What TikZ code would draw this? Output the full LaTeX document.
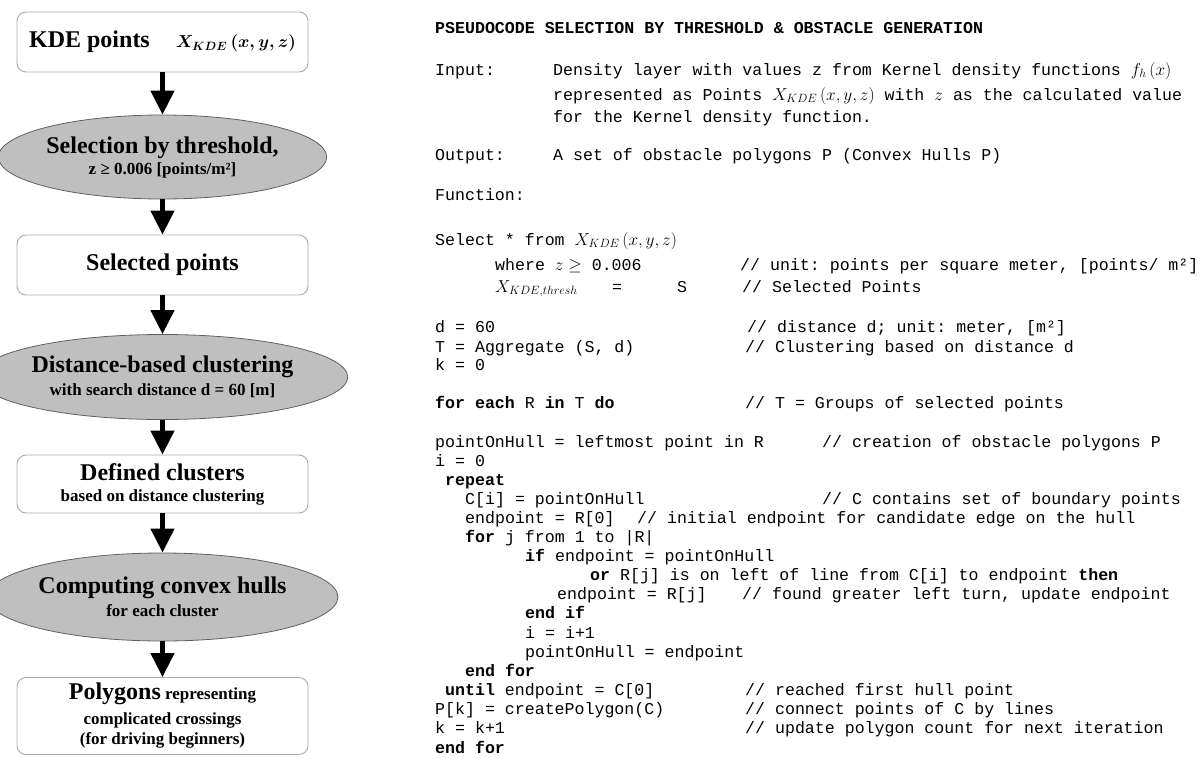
\documentclass[tikz,border=0pt]{standalone}
\usepackage{fontspec}
\setmainfont{Liberation Serif}
\setmonofont{Liberation Mono}
\usetikzlibrary{shapes.geometric,arrows.meta}

\newcommand\codefnt{\ttfamily\fontsize{16.6pt}{19pt}\selectfont}
\newcommand\bigbf{\fontsize{24pt}{24pt}\selectfont}
% small bold text with a given baseline distance between lines
\newcommand\smallbf[1]{\bfseries\fontsize{17pt}{#1}\selectfont}

\tikzset{
  flowbox/.style={draw=gray!65, line width=0.9pt, rounded corners=9pt, fill=white,
    minimum width=291pt, inner sep=0pt, align=center},
  flowoval/.style={ellipse, draw=gray!75!black, line width=0.8pt, fill=gray!50,
    minimum width=300pt, inner sep=0pt, align=center},
  flowarrow/.style={line width=4.5pt, -{Triangle[width=23pt,length=24pt]}},
  code/.style={anchor=base west, inner sep=0pt, font=\codefnt},
}

\begin{document}
\begin{tikzpicture}[x=1pt,y=-1pt]
\useasboundingbox (0,0) rectangle (1201,758);

% ---------------- flow chart ----------------
\node[flowbox, minimum height=60pt, font=\bfseries] (kde) at (162.5,42)
  {\bigbf KDE points\hspace{26pt}{\fontsize{18pt}{20pt}\selectfont\boldmath$X_{KDE}\,(x,y,z)$}};
\node[flowoval, minimum height=84pt, font=\smallbf{21pt}] (thr) at (162.5,157)
  {{\bigbf Selection by threshold,}\\ z ≥ 0.006 [points/m²]};
\node[flowbox, minimum height=60pt, font=\bfseries] (sel) at (162.5,265)
  {\bigbf Selected points};
\node[flowoval, minimum height=85pt, font=\smallbf{23pt}] (clu) at (162.5,377)
  {{\bigbf Distance-based clustering}\\ with search distance d = 60 [m]};
\node[flowbox, minimum height=58pt, font=\smallbf{21pt}] (def) at (162.5,484)
  {{\bigbf Defined clusters}\\ based on distance clustering};
\node[flowoval, minimum height=88pt, font=\smallbf{23pt}] (hul) at (162.5,597)
  {{\bigbf Computing convex hulls}\\ for each cluster};
\node[flowbox, minimum height=77pt, font=\smallbf{20pt}] (pol) at (162.5,716)
  {{\bigbf Polygons} representing\\[5pt]
   complicated crossings\\
   (for driving beginners)};

\draw[flowarrow] (kde.south) -- (thr.north);
\draw[flowarrow] (thr.south) -- (sel.north);
\draw[flowarrow] (sel.south) -- (clu.north);
\draw[flowarrow] (clu.south) -- (def.north);
\draw[flowarrow] (def.south) -- (hul.north);
\draw[flowarrow] (hul.south) -- (pol.north);

% ---------------- pseudocode ----------------
\node[code] (c01) at (435,33) {\textbf{PSEUDOCODE SELECTION BY THRESHOLD \& OBSTACLE GENERATION}};
\node[code] (c02) at (435,75) {Input:};
\node[code] (c03) at (553,75) {Density layer with values z from Kernel density functions $f_h\,(x)$};
\node[code] (c04) at (553,100) {represented as Points $X_{KDE}\,(x,y,z)$ with $z$ as the calculated value};
\node[code] (c05) at (553,122) {for the Kernel density function.};
\node[code] (c06) at (435,160) {Output:};
\node[code] (c07) at (553,160) {A set of obstacle polygons P (Convex Hulls P)};
\node[code] (c08) at (435,200) {Function:};
\node[code] (c09) at (435,245) {Select * from $X_{KDE}\,(x,y,z)$};
\node[code] (c10) at (495,270) {where $z \geq$ 0.006};
\node[code] (c11) at (740,270) {// unit: points per square meter, [points/ m²]};
\node[code] (c12) at (495,292) {$X_{KDE,thresh}$};
\node[code] (c13) at (612,292) {=};
\node[code] (c14) at (677,292) {S};
\node[code] (c15) at (742,292) {// Selected Points};
\node[code] (c16) at (435,332) {d = 60};
\node[code] (c17) at (747,332) {// distance d; unit: meter, [m²]};
\node[code] (c18) at (435,352) {T = Aggregate (S, d)};
\node[code] (c19) at (745,352) {// Clustering based on distance d};
\node[code] (c20) at (435,370) {k = 0};
\node[code] (c21) at (435,408) {\textbf{for each} R \textbf{in} T \textbf{do}};
\node[code] (c22) at (745,408) {// T = Groups of selected points};
\node[code] (c23) at (435,447) {pointOnHull = leftmost point in R};
\node[code] (c24) at (822,447) {// creation of obstacle polygons P};
\node[code] (c25) at (435,466) {i = 0};
\node[code] (c26) at (445,485) {\textbf{repeat}};
\node[code] (c27) at (465,504) {C[i] = pointOnHull};
\node[code] (c28) at (822,504) {// C contains set of boundary points};
\node[code] (c29) at (465,523) {endpoint = R[0]};
\node[code] (c30) at (637,523) {// initial endpoint for candidate edge on the hull};
\node[code] (c31) at (465,542) {\textbf{for} j from 1 to |R|};
\node[code] (c32) at (525,561) {\textbf{if} endpoint = pointOnHull};
\node[code] (c33) at (590,580) {\textbf{or} R[j] is on left of line from C[i] to endpoint \textbf{then}};
\node[code] (c34) at (557,599) {endpoint = R[j]};
\node[code] (c35) at (742,599) {// found greater left turn, update endpoint};
\node[code] (c36) at (525,618) {\textbf{end if}};
\node[code] (c37) at (525,638) {i = i+1};
\node[code] (c38) at (525,657) {pointOnHull = endpoint};
\node[code] (c39) at (465,676) {\textbf{end for}};
\node[code] (c40) at (445,695) {\textbf{until} endpoint = C[0]};
\node[code] (c41) at (745,695) {// reached first hull point};
\node[code] (c42) at (435,714) {P[k] = createPolygon(C)};
\node[code] (c43) at (745,714) {// connect points of C by lines};
\node[code] (c44) at (435,733) {k = k+1};
\node[code] (c45) at (745,733) {// update polygon count for next iteration};
\node[code] (c46) at (435,753) {\textbf{end for}};
\end{tikzpicture}
\end{document}
